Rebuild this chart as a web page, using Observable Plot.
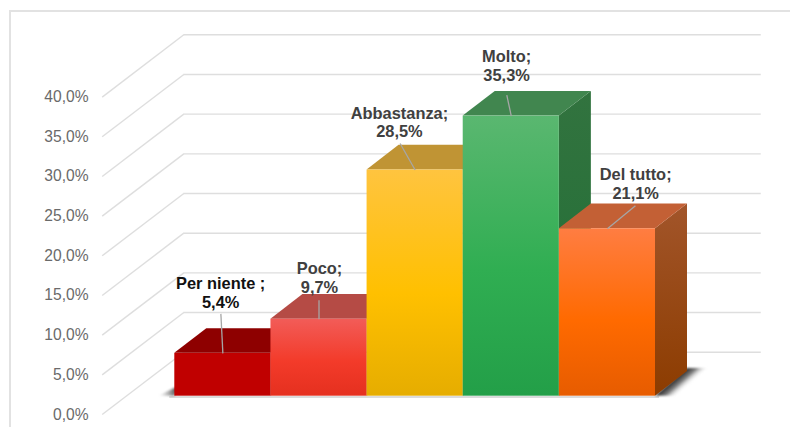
<!DOCTYPE html>
<html lang="it">
<head>
<meta charset="utf-8">
<script src="https://cdn.jsdelivr.net/npm/d3@7"></script>
<script src="https://cdn.jsdelivr.net/npm/@observablehq/plot@0.6"></script>
<style>
html,body{margin:0;padding:0;background:#fff;overflow:hidden}
#frame{position:absolute;left:9px;top:10px;width:790px;height:427px;border-left:2px solid #e2e2e2;border-top:2px solid #e2e2e2;box-sizing:border-box}
#chart{position:absolute;left:0;top:0}
svg{display:block}
</style>
</head>
<body>
<div id="frame"></div>
<div id="chart"></div>
<script>
const categories = ["Per niente ;", "Poco;", "Abbastanza;", "Molto;", "Del tutto;"];
const values = [5.4, 9.7, 28.5, 35.3, 21.1];
const valueLabels = ["5,4%", "9,7%", "28,5%", "35,3%", "21,1%"];
const yTicks = [0, 5, 10, 15, 20, 25, 30, 35, 40];

// Styling, separate from the data
const frontStops = [
  ["#c00000", "#c00000", "#c00000"],
  ["#f25c58", "#f33b2a", "#e5301f"],
  ["#ffc43f", "#ffc000", "#e6ad00"],
  ["#5ab770", "#30ae52", "#239f48"],
  ["#ff7d42", "#ff6a00", "#e75c00"]
];
const sideStops = [
  ["#8c0000", "#8c0000"], ["#a83a36", "#a02a20"], ["#b88a20", "#a87f00"],
  ["#32733f", "#206f35"], ["#a2552a", "#8c3c00"]
];
const topColors = ["#8e0000", "#b54b45", "#c09434", "#41864f", "#c36035"];
const labelColors = ["#111111", "#404040", "#404040", "#404040", "#404040"];
// pixel offsets from each bar's top-centre: text centre and leader start
const labelOffsets = [[-2.2, -61], [0.5, -41.5], [-15.7, -48], [-4.7, -50.5], [28.2, -45.3]];
const leaderOffsets = [[-2, -39.5], [0, -19], [-15, -26.5], [-4.5, -21], [28, -23]];

// Scale geometry
const barPx = 96.13, unitPx = 7.935;
const px = d => d / barPx, pu = d => d / unitPx;
const depthX = px(32), riseY = pu(24.7);
const wallY = pu(44), frontY = pu(-18.3);
const leftX = px(101.7 - 174.3), wallX = px(183.3 - 174.3), rightX = px(760.7 - 174.3);

const defs = () => {
  const d = d3.create("svg:defs");
  const grad = (id, stops, [x1, y1, x2, y2] = [0, 0, 0, 1]) => {
    const g = d.append("linearGradient").attr("id", id)
      .attr("x1", x1).attr("y1", y1).attr("x2", x2).attr("y2", y2);
    stops.forEach(([o, c, a]) => g.append("stop").attr("offset", o).attr("stop-color", c).attr("stop-opacity", a ?? 1));
  };
  frontStops.forEach((s, i) => grad("front" + i, [[0, s[0]], [0.55, s[1]], [1, s[2]]]));
  sideStops.forEach((s, i) => grad("side" + i, [[0, s[0]], [1, s[1]]]));
  grad("shadowR", [[0, "#222222"], [0.45, "#666666", 0.85], [1, "#ffffff", 0]], [0.593, 0, 0.894, 0.179]);
  grad("shadowL", [[0, "#999999", 0], [1, "#333333"]], [0, 0, 1, 0]);
  return d.node();
};

const bars = values.map((v, i) => ({v, i, name: categories[i], lab: valueLabels[i]}));

const barMarks = bars.flatMap(({v, i}) => [
  Plot.area([
    {x: i + 1, y1: 0, y2: v},
    {x: i + 1 + depthX, y1: riseY, y2: v + riseY}
  ], {x1: "x", x2: "x", y1: "y1", y2: "y2", fill: `url(#side${i})`}),
  Plot.area([
    {y: v, x1: i, x2: i + 1},
    {y: v + riseY, x1: i + depthX, x2: i + 1 + depthX}
  ], {x1: "x1", x2: "x2", y1: "y", y2: "y", fill: topColors[i]}),
  Plot.rect([{x1: i, x2: i + 1, y1: 0, y2: v}], {x1: "x1", x2: "x2", y1: "y1", y2: "y2", fill: `url(#front${i})`})
]);

const plot = Plot.plot({
  width: 790,
  height: 427,
  marginLeft: 88,
  marginRight: 0,
  marginTop: 0,
  marginBottom: 0,
  x: {domain: [0, 5], range: [174.3, 655], axis: null},
  y: {domain: [0, 40], range: [395.7, 78.3], axis: null},
  style: {background: "transparent", fontFamily: "'Liberation Sans', Arial, sans-serif", overflow: "visible"},
  marks: [
    defs,
    Plot.ruleY(yTicks, {y: d => d + wallY, x1: wallX, x2: rightX, stroke: "#dedede", strokeWidth: 1.4}),
    Plot.link(yTicks, {
      x1: leftX, x2: wallX,
      y1: d => d + frontY, y2: d => d + wallY,
      stroke: "#dedede", strokeWidth: 1.4
    }),
    // floor shadows
    Plot.area([
      {x1: 5, x2: 5 + px(22), y: 0},
      {x1: 5 + depthX, x2: 5 + depthX + px(22), y: pu(27.7)}
    ], {x1: "x1", x2: "x2", y1: "y", y2: "y", fill: "url(#shadowR)", imageFilter: "blur(0.8px)"}),
    Plot.area([
      {x1: px(-16), x2: 0, y: 0},
      {x1: 0, x2: px(4), y: pu(8)}
    ], {x1: "x1", x2: "x2", y1: "y", y2: "y", fill: "url(#shadowL)", imageFilter: "blur(1px)"}),
    Plot.ruleY([pu(-0.8)], {x1: px(-5), x2: 5 + px(4), stroke: "#9a9a9a", strokeOpacity: 0.7, strokeWidth: 1.2}),
    ...barMarks,
    Plot.axisY({
      ticks: yTicks, anchor: "left", tickSize: 0, tickPadding: 0, label: null, dy: 18.3,
      tickFormat: d => d.toFixed(1).replace(".", ",") + "%",
      fontSize: 15.6, color: "#6a6a6a"
    }),
    Plot.link(bars, {
      x1: d => d.i + 0.5, y1: d => d.v,
      x2: d => d.i + 0.5 + px(leaderOffsets[d.i][0]),
      y2: d => d.v - pu(leaderOffsets[d.i][1]),
      stroke: "#a6a6a6", strokeWidth: 1.3
    }),
    ...bars.map(d => Plot.text([d], {
      x: d.i + 0.5, y: d.v,
      dx: labelOffsets[d.i][0], dy: labelOffsets[d.i][1],
      text: t => t.name + "\n" + t.lab,
      lineHeight: 1.13,
      fontSize: 16.4, fontWeight: 700, fill: labelColors[d.i],
      textAnchor: "middle", lineAnchor: "middle"
    }))
  ]
});
document.getElementById("chart").append(plot);
</script>
</body>
</html>
